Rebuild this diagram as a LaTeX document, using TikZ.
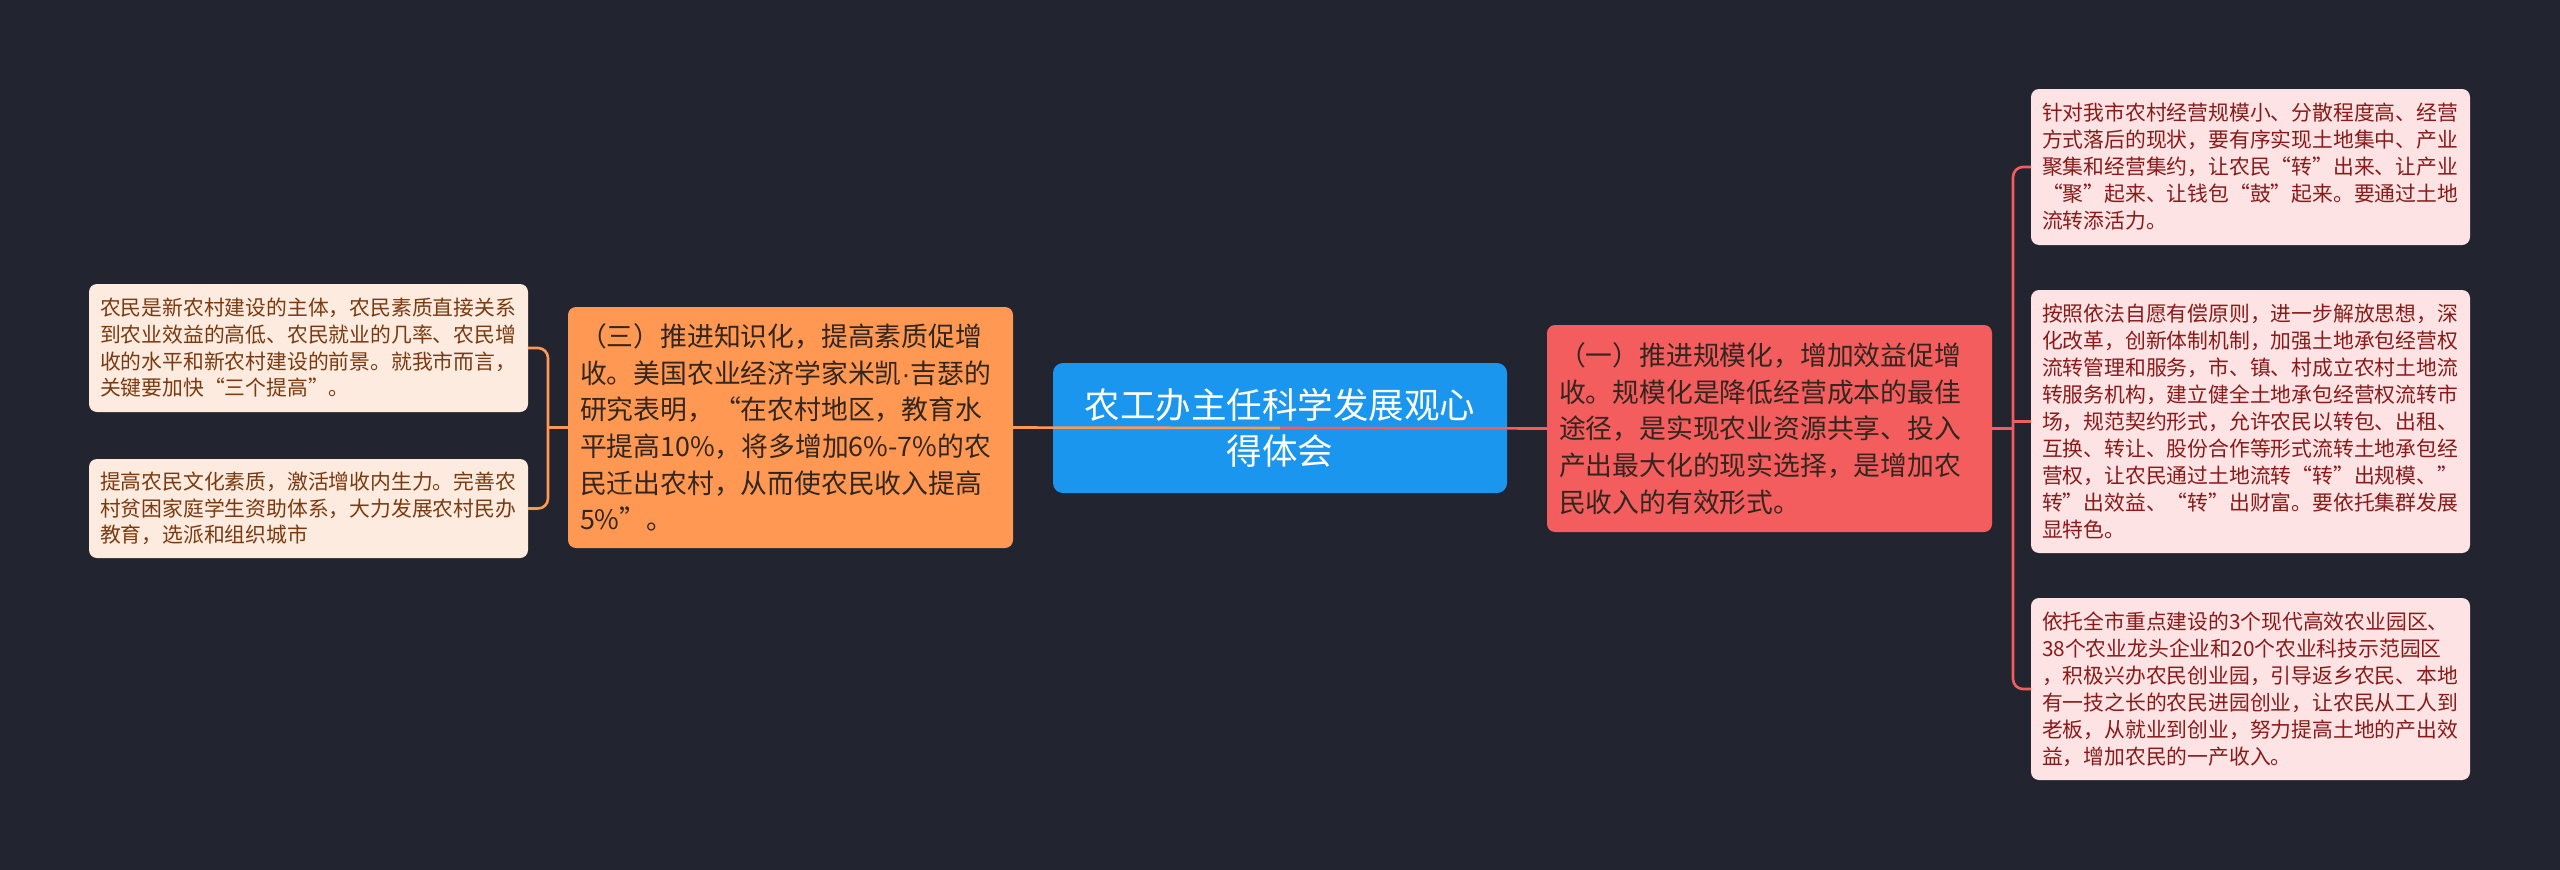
\documentclass[tikz,border=0pt]{standalone}
\usepackage{fontspec}
\setmainfont{Noto Sans CJK SC}
\newfontfamily\latinf{Liberation Sans}
\definecolor{bg}{HTML}{222530}
\definecolor{rootc}{HTML}{1A96EE}
\definecolor{redc}{HTML}{F35D5E}
\definecolor{orc}{HTML}{FE9852}
\definecolor{lleaf}{HTML}{FDEBE0}
\definecolor{lleaftext}{HTML}{7A3A10}
\definecolor{rleaf}{HTML}{FDE3E3}
\definecolor{rleaftext}{HTML}{8A1A1A}
\definecolor{maintext}{HTML}{33261F}
\begin{document}
\begin{tikzpicture}[x=1pt,y=-1pt,
  box/.style={rounded corners=8pt, inner xsep=12pt, inner ysep=0pt, align=left, anchor=center},
  rootbox/.style={box, rounded corners=10pt, fill=rootc, text=white, align=center, minimum width=454pt, text width=430pt, font=\fontsize{35.5pt}{46pt}\selectfont},
  mainbox/.style={box, minimum width=445pt, text width=421pt, text=maintext, font=\fontsize{26.8pt}{36.7pt}\selectfont},
  lleafbox/.style={box, fill=lleaf, text=lleaftext, minimum width=439pt, text width=417pt, inner xsep=11pt, font=\fontsize{20.8pt}{26.7pt}\selectfont},
  rleafbox/.style={box, fill=rleaf, text=rleaftext, minimum width=439pt, text width=417pt, inner xsep=11pt, font=\fontsize{20.8pt}{27pt}\selectfont},
  oline/.style={draw=orc, line width=2.6pt},
  rline/.style={draw=redc, line width=2.6pt},
]
\fill[bg] (0,0) rectangle (2560,870);
\useasboundingbox (0,0) rectangle (2560,870);

\node[rootbox, minimum height=130pt] (root) at (1280,428) {农工办主任科学发展观心\\得体会};

\node[mainbox, fill=redc, minimum height=207pt] (red) at (1769.5,428.5) {（一）推进规模化，增加效益促增\\收。规模化是降低经营成本的最佳\\途径，是实现农业资源共享、投入\\产出最大化的现实选择，是增加农\\民收入的有效形式。};

\node[mainbox, fill=orc, minimum height=241pt] (orange) at (790.5,427.5) {（三）推进知识化，提高素质促增\\收。美国农业经济学家米凯{\latinf ·}吉瑟的\\研究表明，“在农村地区，教育水\\平提高10\%，将多增加6\%-7\%的农\\民迁出农村，从而使农民收入提高\\5\%”。};

\node[lleafbox, minimum height=128pt] (ll1) at (308.5,348) {农民是新农村建设的主体，农民素质直接关系\\到农业效益的高低、农民就业的几率、农民增\\收的水平和新农村建设的前景。就我市而言，\\关键要加快“三个提高”。};

\node[lleafbox, minimum height=99pt] (ll2) at (308.5,508.5) {提高农民文化素质，激活增收内生力。完善农\\村贫困家庭学生资助体系，大力发展农村民办\\教育，选派和组织城市};

\node[rleafbox, minimum height=156pt] (rl1) at (2250.5,167) {针对我市农村经营规模小、分散程度高、经营\\方式落后的现状，要有序实现土地集中、产业\\聚集和经营集约，让农民“转”出来、让产业\\“聚”起来、让钱包“鼓”起来。要通过土地\\流转添活力。};

\node[rleafbox, minimum height=263pt] (rl2) at (2250.5,421.5) {按照依法自愿有偿原则，进一步解放思想，深\\化改革，创新体制机制，加强土地承包经营权\\流转管理和服务，市、镇、村成立农村土地流\\转服务机构，建立健全土地承包经营权流转市\\场，规范契约形式，允许农民以转包、出租、\\互换、转让、股份合作等形式流转土地承包经\\营权，让农民通过土地流转“转”出规模、”\\转”出效益、“转”出财富。要依托集群发展\\显特色。};

\node[rleafbox, minimum height=182pt] (rl3) at (2250.5,689) {依托全市重点建设的3个现代高效农业园区、\\38个农业龙头企业和20个农业科技示范园区\\，积极兴办农民创业园，引导返乡农民、本地\\有一技之长的农民进园创业，让农民从工人到\\老板，从就业到创业，努力提高土地的产出效\\益，增加农民的一产收入。};

% connectors from the root
\draw[oline] (root.center) -- (orange.east);
\draw[rline] (root.center) -- (red.west);

% right bus
\coordinate (rb) at (2013,425);
\draw[rline] (red.east) -- (red.east -| rb);
\draw[rline, rounded corners=10pt] (rl1.west) -- (rl1.west -| rb) -- (rl3.west -| rb) -- (rl3.west);
\draw[rline] (rl2.west -| rb) -- (rl2.west);

% left bus
\coordinate (lb) at (548,428);
\draw[oline] (orange.west) -- (orange.west -| lb);
\draw[oline, rounded corners=10pt] (ll1.east) -- (ll1.east -| lb) -- (ll2.east -| lb) -- (ll2.east);
\end{tikzpicture}
\end{document}
